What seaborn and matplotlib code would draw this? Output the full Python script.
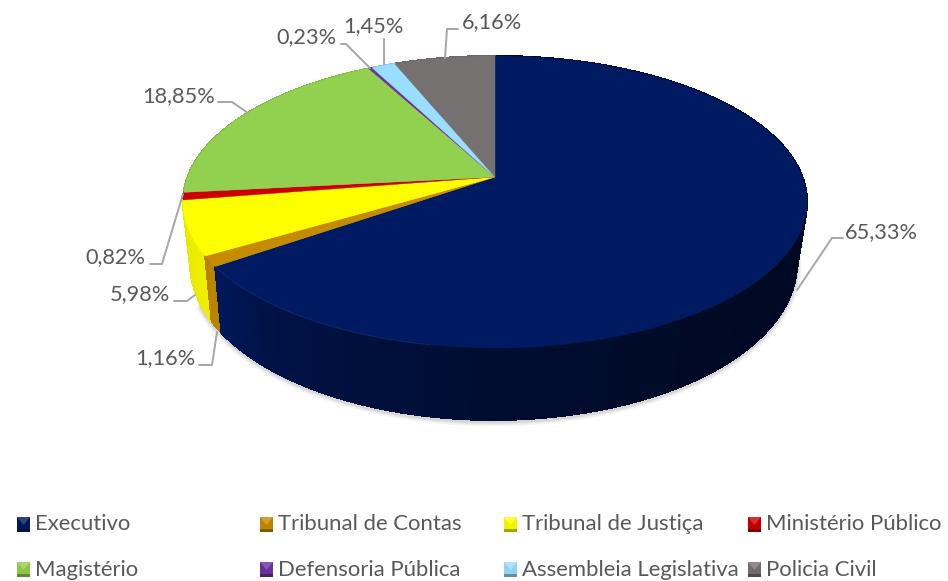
import numpy as np
import matplotlib
matplotlib.use("Agg")
import matplotlib.pyplot as plt
from matplotlib.collections import PolyCollection
from matplotlib.patches import Rectangle, Polygon
import seaborn as sns

categories = ["Executivo", "Tribunal de Contas", "Tribunal de Justiça", "Ministério Público",
              "Magistério", "Defensoria Pública", "Assembleia Legislativa", "Policia Civil"]
values = [65.33, 1.16, 5.98, 0.82, 18.85, 0.23, 1.45, 6.16]
value_labels = ["65,33%", "1,16%", "5,98%", "0,82%", "18,85%", "0,23%", "1,45%", "6,16%"]
colors = ["#001A62", "#C68C00", "#FFFF00", "#CC0000", "#92D050", "#7030A0", "#99DDFF", "#767171"]

sns.set_theme(style="white")
plt.rcParams["font.family"] = ["Lato", "DejaVu Sans"]
palette = sns.color_palette(colors)
TEXT = "#595959"
LEADER = "#A6A6A6"

fig = plt.figure(figsize=(9.48, 5.81), dpi=100, facecolor="white")
ax = fig.add_axes([0, 0, 1, 1])
ax.set_xlim(0, 948)
ax.set_ylim(581, 0)
ax.axis("off")

# perspective projection of the disc
CX, CY = 495.0, 177.0
PX, PV, C = 307.4, 141.7, 0.171
WX, WXC, WY0, WVS = 0.972, 493.5, 237.0, 1.07


def project(deg):
    t = np.radians(deg)
    x, y = np.sin(t), np.cos(t)
    w = 1 + C * y
    return PX * x / w, PV * y / w


def top_pt(deg):
    dx, v = project(deg)
    return np.column_stack([CX + dx, CY - v])


def bot_pt(deg):
    dx, v = project(deg)
    return np.column_stack([WXC + WX * dx, WY0 - WVS * v])


edges = np.concatenate([[0], np.cumsum(values)]) / np.sum(values) * 360

# soft shadow below the body
arc = np.linspace(95, 245, 200)
sh = bot_pt(arc)
for lw, a in [(7, 0.06), (5, 0.08), (3, 0.12)]:
    ax.plot(sh[:, 0], sh[:, 1] + 1.5, color="#555555", lw=lw, alpha=a, zorder=1, solid_capstyle="round")

# side walls, painted back to front
quads = []
for i, col in enumerate(palette):
    n = max(2, int((edges[i + 1] - edges[i]) * 2))
    a = np.linspace(edges[i], edges[i + 1], n + 1)
    t, b = top_pt(a), bot_pt(a)
    mid = (a[:-1] + a[1:]) / 2
    shade = np.interp(mid, [90, 135, 180, 220, 236, 265], [0.34, 0.36, 0.5, 0.72, 0.94, 0.9])
    for k in range(n):
        quads.append((abs(mid[k] - 180), [t[k], t[k + 1], b[k + 1], b[k]], tuple(np.array(col) * shade[k])))
quads.sort(key=lambda q: -q[0])
ax.add_collection(PolyCollection([q[1] for q in quads], facecolors=[q[2] for q in quads],
                                 edgecolors=[q[2] for q in quads], linewidths=0.8,
                                 antialiaseds=False, zorder=2))

# top face
for i, col in enumerate(palette):
    a = np.linspace(edges[i], edges[i + 1], max(2, int((edges[i + 1] - edges[i]) * 2)))
    pts = np.vstack([[CX, CY], top_pt(a)])
    ax.add_patch(Polygon(pts, closed=True, facecolor=col, edgecolor=col, linewidth=0.3, zorder=3))

# faint highlight along the front rim of the largest slice
rim = top_pt(np.linspace(190, edges[1], 80))
ax.plot(rim[:, 0], rim[:, 1], color="#2A4A9A", lw=0.7, alpha=0.35, zorder=3.5)

# leader lines and value labels
leaders = [
    [(797, 290), (832, 238), (843, 238)],
    [(217, 332), (212, 365), (199, 365)],
    [(195, 295), (187, 301), (174, 301)],
    [(183, 194), (162, 264), (150, 264)],
    [(248, 113), (232, 102), (218, 102)],
    [(370, 68), (346, 44), (341, 44)],
    [(384, 64), (384, 39)],
    [(445, 58), (447, 29), (458, 29)],
]
label_pos = [(845, 232), (135, 358), (110, 294), (85, 257), (142, 96), (276, 37), (343, 26), (462, 22)]
for pts, (lx, ly), s in zip(leaders, label_pos, value_labels):
    xs, ys = zip(*pts)
    ax.plot(xs, ys, color=LEADER, lw=1.4, zorder=4)
    ax.text(lx, ly, s, fontsize=15.7, color=TEXT, ha="left", va="center", zorder=5)

# legend
col_x = [17, 260, 504, 748]
row_y = [524, 569]
for i, (name, col) in enumerate(zip(categories, palette)):
    x, y = col_x[i % 4], row_y[i // 4]
    c = np.array(col)
    ax.add_patch(Rectangle((x, y - 7), 13, 15, facecolor=tuple(c * 0.95), edgecolor="none", zorder=3))
    ax.add_patch(Polygon([(x, y - 7), (x + 13, y - 7), (x + 6.5, y + 1)], facecolor=tuple(c + (1 - c) * 0.18),
                         edgecolor="none", zorder=4))
    ax.add_patch(Rectangle((x, y + 5), 13, 3, facecolor=tuple(c * 0.65), edgecolor="none", zorder=4))
    ax.text(x + 18, y + 0.5, name, fontsize=15.9, color=TEXT, ha="left", va="center", zorder=5)

fig.savefig("out.png", dpi=100, facecolor="white")
